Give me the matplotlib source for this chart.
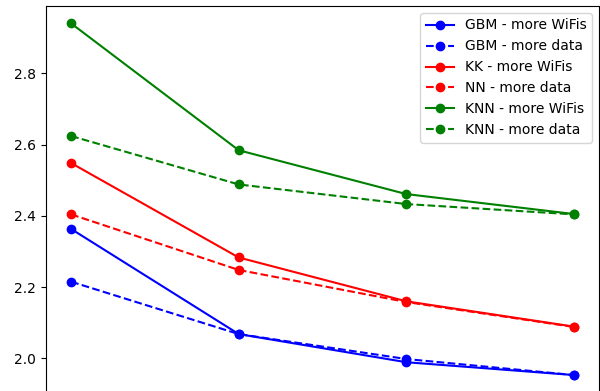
import matplotlib
matplotlib.use("Agg")
import matplotlib.pyplot as plt

# Error vs. training-set size for each model
steps = [0, 1, 2, 3]
gbm_wifis = [2.363, 2.068, 1.989, 1.953]
gbm_data = [2.215, 2.068, 1.998, 1.953]
kk_wifis = [2.548, 2.283, 2.160, 2.089]
nn_data = [2.404, 2.248, 2.158, 2.088]
knn_wifis = [2.940, 2.584, 2.461, 2.405]
knn_data = [2.624, 2.488, 2.433, 2.404]

fig = plt.figure(figsize=(6.0, 3.91), dpi=100)
# lower edge of the axes sits just under the bottom of the canvas
ax = fig.add_axes([0.0767, -0.0075, 0.9217, 0.9922])

ax.plot(steps, gbm_wifis, "o-", color="blue", label="GBM - more WiFis")
ax.plot(steps, gbm_data, "o--", color="blue", label="GBM - more data")
ax.plot(steps, kk_wifis, "o-", color="red", label="KK - more WiFis")
ax.plot(steps, nn_data, "o--", color="red", label="NN - more data")
ax.plot(steps, knn_wifis, "o-", color="green", label="KNN - more WiFis")
ax.plot(steps, knn_data, "o--", color="green", label="KNN - more data")

ax.set_ylim(1.900, 2.989)
ax.tick_params(axis="x", labelbottom=False)
ax.legend(loc="upper right")
fig.savefig("out.png", dpi=100)
